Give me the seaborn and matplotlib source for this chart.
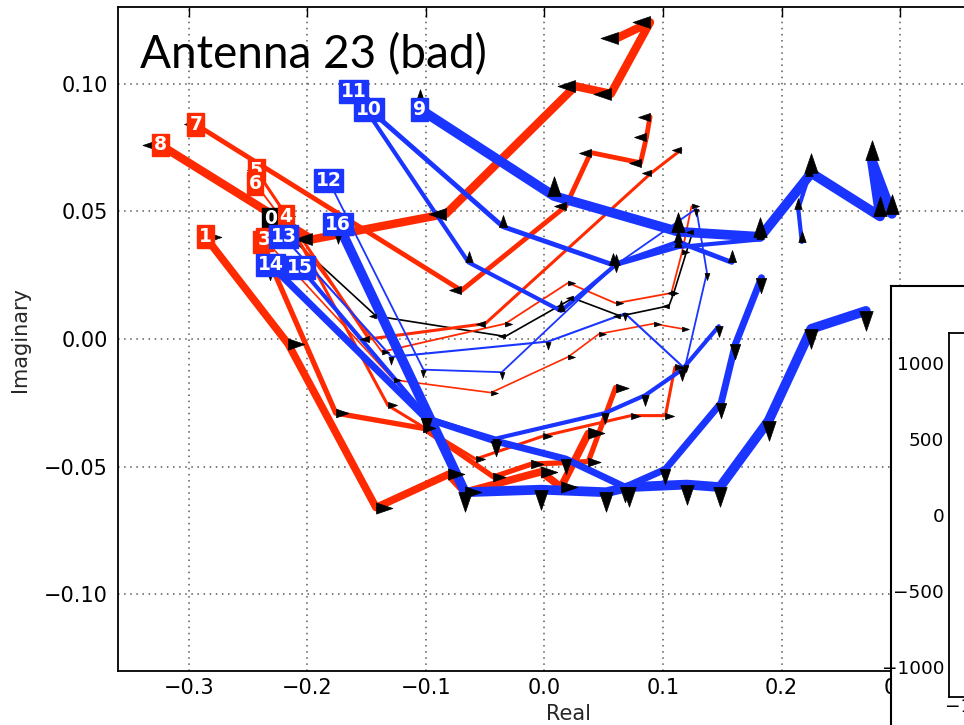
import numpy as np
import pandas as pd
import matplotlib
matplotlib.use("Agg")
import matplotlib.pyplot as plt
from matplotlib.path import Path
import seaborn as sns

# ---- gain trajectories in the complex plane, one per channel ----
real_00 = [-0.231, -0.142, -0.033, 0.024, 0.064, 0.105, 0.109, 0.125]
imag_00 = [0.047, 0.009, 0.001, 0.016, 0.009, 0.013, 0.018, 0.042]

real_01 = [-0.286, -0.216, -0.142, -0.081, -0.067, -0.003, 0.014, 0.037]
imag_01 = [0.040, -0.002, -0.066, -0.053, -0.060, -0.052, -0.058, -0.037]

real_02 = [-0.239, -0.176, -0.102, -0.043, -0.011, 0.037, 0.060]
imag_02 = [0.038, -0.029, -0.035, -0.054, -0.049, -0.048, -0.019]

real_03 = [-0.236, -0.127, -0.045, 0.020, 0.046, 0.092, 0.116]
imag_03 = [0.039, -0.016, -0.021, -0.007, 0.002, 0.006, 0.004]

real_04 = [-0.218, -0.132, -0.058, -0.001, 0.073, 0.102, 0.110]
imag_04 = [0.048, -0.026, -0.047, -0.038, -0.030, -0.030, -0.011]

real_05 = [-0.243, -0.148, -0.050, 0.090, 0.115]
imag_05 = [0.066, 0.000, 0.006, 0.065, 0.074]

real_06 = [-0.244, -0.137, -0.033, 0.020, 0.060, 0.107, 0.116, 0.124]
imag_06 = [0.061, -0.005, 0.006, 0.022, 0.014, 0.018, 0.034, 0.052]

real_07 = [-0.294, -0.070, 0.018, 0.039, 0.081, 0.086, 0.089]
imag_07 = [0.084, 0.019, 0.052, 0.073, 0.069, 0.079, 0.087]

real_08 = [-0.324, -0.196, -0.083, 0.026, 0.056, 0.089, 0.062]
imag_08 = [0.076, 0.039, 0.049, 0.099, 0.096, 0.124, 0.118]

real_09 = [-0.105, 0.008, 0.113, 0.182, 0.225, 0.283, 0.276, 0.293]
imag_09 = [0.090, 0.056, 0.042, 0.040, 0.065, 0.048, 0.070, 0.049]

real_10 = [-0.148, -0.035, 0.058, 0.113, 0.158]
imag_10 = [0.090, 0.044, 0.029, 0.038, 0.030]

real_11 = [-0.161, -0.064, 0.014, 0.060, 0.113, 0.182, 0.223, 0.214, 0.217]
imag_11 = [0.097, 0.030, 0.011, 0.029, 0.036, 0.039, 0.064, 0.051, 0.038]

real_12 = [-0.182, -0.102, -0.036, 0.060, 0.128, 0.137, 0.119]
imag_12 = [0.062, -0.012, -0.013, 0.029, 0.051, 0.026, -0.010]

real_13 = [-0.220, -0.129, 0.003, 0.068, 0.117]
imag_13 = [0.040, -0.007, -0.001, 0.010, -0.011]

real_14 = [-0.231, -0.100, -0.041, 0.018, 0.068, 0.102, 0.149, 0.161, 0.183]
imag_14 = [0.029, -0.031, -0.040, -0.047, -0.058, -0.051, -0.025, -0.002, 0.024]

real_15 = [-0.206, -0.098, -0.041, 0.051, 0.085, 0.116, 0.147]
imag_15 = [0.028, -0.031, -0.039, -0.029, -0.022, -0.012, 0.005]

real_16 = [-0.174, -0.067, -0.003, 0.052, 0.071, 0.120, 0.148, 0.189, 0.225, 0.271]
imag_16 = [0.045, -0.060, -0.059, -0.060, -0.058, -0.057, -0.058, -0.032, 0.004, 0.011]

channels = list(range(17))
reals = [real_00, real_01, real_02, real_03, real_04, real_05, real_06, real_07, real_08,
         real_09, real_10, real_11, real_12, real_13, real_14, real_15, real_16]
imags = [imag_00, imag_01, imag_02, imag_03, imag_04, imag_05, imag_06, imag_07, imag_08,
         imag_09, imag_10, imag_11, imag_12, imag_13, imag_14, imag_15, imag_16]

# ---- styling per channel ----
RED, BLUE = "#ff2a00", "#1a35ff"
colors = ["black"] + [RED] * 8 + [BLUE] * 8
widths = [1.2, 5.5, 3.8, 1.2, 2.2, 2.2, 1.3, 3.5, 6.0,
          7.0, 3.5, 3.0, 1.3, 1.5, 5.0, 3.0, 7.0]
heads = ["<", ">", ">", ">", ">", "<", ">", "<", "<",
         "^", "^", "^", "v", "v", "v", "v", "v"]

inset_yticks = [-1000, -500, 0, 500, 1000]
inset_xticks = [-1000]

rows = []
for ch, xs, ys in zip(channels, reals, imags):
    for i, (xv, yv) in enumerate(zip(xs, ys)):
        rows.append({"channel": ch, "step": i, "real": xv, "imag": yv})
df = pd.DataFrame(rows)


def arrow_head(direction):
    """Triangle marker whose base sits on the vertex and whose tip points outward."""
    ang = {">": 0, "^": 90, "<": 180, "v": 270}[direction]
    t = np.deg2rad(ang)
    rot = np.array([[np.cos(t), -np.sin(t)], [np.sin(t), np.cos(t)]])
    pts = np.array([[1.0, 0.0], [0.0, 0.34], [0.0, -0.34], [1.0, 0.0]]) @ rot.T
    return Path(pts, [Path.MOVETO, Path.LINETO, Path.LINETO, Path.CLOSEPOLY])


sns.set_theme(style="white")
plt.rcParams["font.family"] = ["DejaVu Sans"]
plt.rcParams["axes.unicode_minus"] = True

W, H = 964, 725
fig = plt.figure(figsize=(W / 100, H / 100), dpi=100)
fig.patch.set_facecolor("white")

ax = fig.add_axes([117.5 / W, 54 / H, 0.76 * 1186 / W, 664 / H])
ax.set_xlim(-0.36, 0.40)
ax.set_ylim(-0.13, 0.13)

for ch in channels:
    sub = df[df["channel"] == ch]
    sns.lineplot(data=sub, x="real", y="imag", sort=False, estimator=None,
                 color=colors[ch], linewidth=widths[ch], ax=ax, zorder=2,
                 solid_joinstyle="round", solid_capstyle="round")

for ch in channels:
    sub = df[df["channel"] == ch]
    ax.plot(sub["real"], sub["imag"], ls="none", marker=arrow_head(heads[ch]),
            ms=6 + 3.2 * widths[ch], mfc="black", mec="black", mew=0.5, zorder=4)

for ch in channels:
    sub = df[df["channel"] == ch]
    ax.text(sub["real"].iloc[0], sub["imag"].iloc[0], str(ch), color="white",
            fontsize=13.5, fontweight="bold", ha="center", va="center", zorder=10 + ch,
            bbox=dict(boxstyle="square,pad=0.1", fc=colors[ch], ec=colors[ch], lw=1))

ax.set_xticks([-0.3, -0.2, -0.1, 0.0, 0.1, 0.2, 0.3])
ax.set_yticks([-0.10, -0.05, 0.0, 0.05, 0.10])
ax.grid(True, color="0.35", linestyle=(0, (1, 3)), linewidth=1.1)
ax.tick_params(axis="both", direction="in", length=7, width=1, labelsize=15,
               top=True, right=True, colors="black")
ax.tick_params(axis="y", pad=7)
ax.tick_params(axis="x", pad=5)
for s in ax.spines.values():
    s.set_color("black")
    s.set_linewidth(1.3)
ax.set_xlabel("Real", fontsize=15, labelpad=4)
ax.set_ylabel("Imaginary", fontsize=15, labelpad=10)

# neighbouring panel overlapping the lower right corner
panel = fig.add_axes([891 / W, -0.1, 0.2, 0.1 + (H - 286) / H])
panel.set_facecolor("white")
panel.set_xticks([])
panel.set_yticks([])
for s in panel.spines.values():
    s.set_color("black")
    s.set_linewidth(1.5)

inner = fig.add_axes([949 / W, 28 / H, 0.2, 364 / H])
inner.set_facecolor("white")
inner.set_ylim(-1200, 1200)
inner.set_xlim(-1400, 1400)
inner.set_yticks(inset_yticks)
inner.set_xticks(inset_xticks)
inner.tick_params(axis="both", direction="in", length=5, width=1, labelsize=13.3,
                  colors="black")
inner.tick_params(axis="x", pad=1)
for s in inner.spines.values():
    s.set_color("black")
    s.set_linewidth(1.3)

fig.text(140 / W, (H - 68) / H, "Antenna 23 (bad)", family=["Lato", "DejaVu Sans"],
         fontsize=33, ha="left", va="baseline", color="black", zorder=20)

fig.savefig("out.png", dpi=100)
